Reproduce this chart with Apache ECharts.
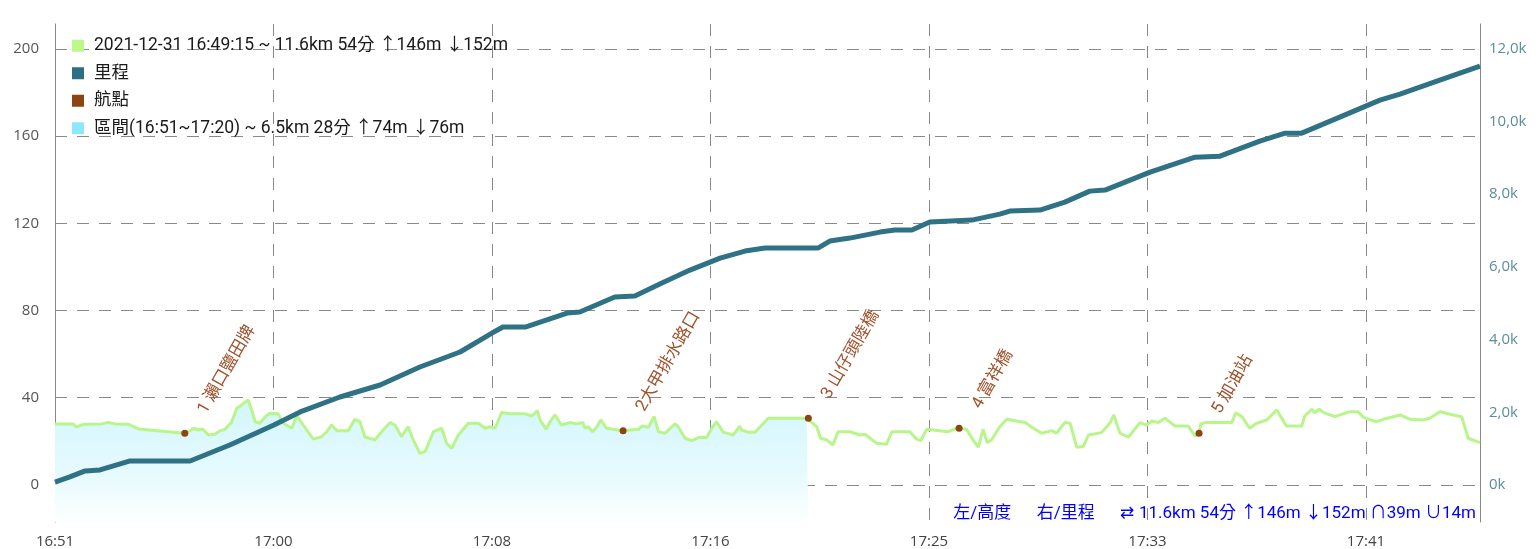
<!DOCTYPE html>
<html>
<head>
<meta charset="utf-8">
<script src="https://cdn.jsdelivr.net/npm/echarts@6/dist/echarts.min.js"></script>
<style>
  html, body { margin: 0; padding: 0; background: #fff; }
  #chart { width: 1540px; height: 549px; }
</style>
</head>
<body>
<div id="chart"></div>
<script>
// seconds from 16:51:45
const eleSec = [0, 42, 48, 65, 107, 122, 137, 168, 191, 297, 309, 318, 328, 338, 351, 366, 378, 389, 404, 416, 427, 442, 450, 458, 469, 481, 492, 511, 522, 542, 553, 576, 591, 610, 622, 633, 645, 671, 686, 698, 709, 732, 751, 767, 778, 793, 808, 820, 835, 847, 866, 885, 896, 908, 923, 946, 969, 984, 995, 1007, 1022, 1041, 1076, 1091, 1104, 1110, 1124, 1133, 1144, 1159, 1178, 1194, 1208, 1213, 1220, 1230, 1240, 1249, 1262, 1300, 1335, 1343, 1358, 1371, 1381, 1396, 1419, 1426, 1442, 1457, 1476, 1491, 1503, 1514, 1529, 1552, 1567, 1571, 1586, 1602, 1613, 1632, 1720, 1724, 1743, 1752, 1766, 1780, 1792, 1819, 1842, 1854, 1865, 1880, 1903, 1915, 1956, 1972, 1981, 1995, 2044, 2056, 2069, 2086, 2101, 2113, 2124, 2133, 2143, 2162, 2178, 2220, 2239, 2258, 2281, 2292, 2311, 2323, 2338, 2353, 2365, 2395, 2414, 2423, 2437, 2456, 2483, 2498, 2510, 2525, 2540, 2563, 2593, 2609, 2618, 2622, 2635, 2693, 2702, 2716, 2734, 2750, 2773, 2796, 2818, 2853, 2860, 2876, 2883, 2893, 2906, 2929, 2963, 2982, 2994, 3024, 3040, 3078, 3101, 3131, 3146, 3169, 3200, 3219, 3234, 3261]
const eleMeters = [28.0, 28.0, 26.5, 27.8, 28.0, 28.7, 28.0, 27.8, 25.7, 23.7, 24.9, 26.0, 25.2, 25.7, 22.9, 23.2, 24.9, 25.5, 28.7, 35.2, 36.7, 39.0, 34.4, 29.0, 28.3, 31.3, 32.9, 32.6, 28.3, 26.0, 31.8, 25.2, 21.0, 22.1, 24.4, 27.5, 24.9, 24.9, 30.1, 29.0, 22.1, 20.6, 25.2, 28.6, 27.5, 22.1, 26.7, 20.6, 14.5, 15.3, 24.4, 26.0, 19.1, 16.8, 22.9, 28.3, 28.3, 26.0, 26.7, 26.0, 33.2, 32.6, 32.6, 31.6, 34.1, 29.8, 25.5, 29.0, 32.1, 27.5, 28.6, 28.0, 28.6, 26.0, 26.7, 24.4, 26.7, 29.8, 26.0, 24.8, 25.5, 27.0, 26.5, 31.3, 24.4, 23.7, 28.0, 26.7, 21.4, 20.3, 21.9, 21.7, 26.0, 29.0, 24.2, 22.9, 27.0, 25.2, 24.2, 24.2, 26.5, 30.6, 30.6, 30.6, 26.7, 21.4, 20.6, 18.3, 24.4, 24.4, 22.9, 23.2, 21.4, 19.1, 18.7, 24.4, 24.4, 21.0, 20.3, 25.5, 24.4, 25.5, 26.0, 25.5, 20.6, 17.3, 25.5, 19.4, 20.6, 26.7, 30.1, 28.6, 26.0, 23.7, 24.9, 23.7, 28.7, 28.3, 17.3, 17.6, 22.9, 24.0, 28.3, 32.1, 23.7, 21.9, 28.6, 27.5, 29.3, 28.6, 30.6, 27.0, 27.0, 22.5, 23.7, 28.0, 28.6, 28.6, 33.1, 31.3, 26.0, 28.3, 29.8, 34.4, 27.0, 27.0, 31.6, 34.7, 33.1, 34.7, 32.9, 31.3, 33.6, 33.6, 31.0, 29.0, 30.1, 32.1, 30.1, 29.8, 30.6, 33.6, 32.1, 31.3, 21.4, 19.4]

const distSec = [0, 34, 69, 103, 172, 309, 400, 501, 561, 652, 744, 835, 927, 1000, 1025, 1076, 1172, 1201, 1281, 1327, 1384, 1453, 1522, 1579, 1625, 1746, 1773, 1819, 1865, 1888, 1922, 1961, 2002, 2098, 2162, 2185, 2254, 2311, 2368, 2403, 2506, 2609, 2666, 2757, 2815, 2853, 2940, 3032, 3078, 3169, 3261]
const distMeters = [80, 220, 385, 412, 660, 660, 1100, 1650, 2008, 2420, 2750, 3245, 3658, 4180, 4345, 4345, 4730, 4758, 5170, 5198, 5528, 5913, 6243, 6435, 6518, 6518, 6710, 6793, 6903, 6958, 7013, 7013, 7233, 7288, 7453, 7535, 7563, 7783, 8085, 8113, 8608, 9020, 9048, 9460, 9680, 9680, 10120, 10588, 10753, 11138, 11523]

const wpSec = [297, 1300, 1724, 2069, 2618]
const wpEle = [23.7, 24.8, 30.6, 26.0, 23.7]
const wpName = ['1 瀨口鹽田牌', '2大甲排水路口', '3 山仔頭陸橋', '4 富祥橋', '5 加油站']

const rangeEnd = 1724
const startClock = 16 * 3600 + 51 * 60 + 45

const nameTrack = '2021-12-31 16:49:15 ~ 11.6km 54分 ↑146m ↓152m'
const nameDist = '里程'
const nameWp = '航點'
const nameRange = '區間(16:51~17:20) ~ 6.5km 28分 ↑74m ↓76m'
const bottomNote = '左/高度      右/里程      {arr|⇄}11.6km 54分 ↑146m ↓152m ∩39m ∪14m'

const font = 'Roboto, "Noto Sans CJK TC", sans-serif'
const axisFont = '"Open Sans", "Noto Sans CJK TC", sans-serif'

let eleData = eleSec.map((s, i) => [s, eleMeters[i]])
let rangeData = eleData.filter(d => d[0] <= rangeEnd)
let distData = distSec.map((s, i) => [s, distMeters[i]])
let wpData = wpSec.map((s, i) => [s, wpEle[i]])

function clock (v) {
  let t = Math.floor(startClock + v)
  let h = Math.floor(t / 3600)
  let m = Math.floor((t % 3600) / 60)
  return h + ':' + (m < 10 ? '0' + m : m)
}

let gridDash = {color: '#888', type: [12, 10], width: 1}

let myChart = echarts.init(document.getElementById('chart'))
let option = {
  animation: false,
  textStyle: {fontFamily: font},
  grid: {left: 55, right: 60, top: 24, bottom: 27, containLabel: false, outerBoundsMode: 'none'},
  legend: {
    orient: 'vertical',
    left: 67,
    top: 32,
    itemWidth: 12,
    itemHeight: 12,
    itemGap: 10,
    icon: 'rect',
    textStyle: {fontSize: 17.5, color: '#1a1a1a', fontFamily: font, padding: [0, 0, 0, 5]},
    data: [nameTrack, nameDist, nameWp, nameRange]
  },
  xAxis: {
    type: 'value',
    min: 0,
    max: 3261,
    interval: 500,
    axisLine: {show: false},
    axisTick: {show: false},
    axisLabel: {
      formatter: clock,
      showMaxLabel: false,
      color: '#444',
      fontSize: 15,
      fontFamily: axisFont,
      margin: 12
    },
    splitLine: {show: true, lineStyle: gridDash}
  },
  yAxis: [
    {
      type: 'value',
      min: -17,
      max: 211.4,
      minInterval: 40,
      maxInterval: 40,
      axisLine: {show: true, lineStyle: {color: '#888'}},
      axisTick: {show: false},
      axisLabel: {showMinLabel: false, showMaxLabel: false, color: '#555', fontSize: 15, fontFamily: axisFont, margin: 16},
      splitLine: {show: true, showMinLine: false, showMaxLine: false, lineStyle: gridDash}
    },
    {
      type: 'value',
      min: -1020,
      max: 12684,
      minInterval: 2000,
      maxInterval: 2000,
      axisLine: {show: true, lineStyle: {color: '#888'}},
      axisTick: {show: false},
      axisLabel: {
        showMinLabel: false,
        showMaxLabel: false,
        color: '#5b8d9b',
        fontSize: 15,
        fontFamily: axisFont,
        margin: 9,
        formatter: v => v === 0 ? '0k' : (v / 1000).toFixed(1).replace('.', ',') + 'k'
      },
      splitLine: {show: false}
    }
  ],
  series: [
    {
      name: nameRange,
      type: 'line',
      data: rangeData,
      symbol: 'none',
      color: '#8ee8fb',
      lineStyle: {width: 0},
      areaStyle: {
        origin: 'start',
        opacity: 1,
        color: new echarts.graphic.LinearGradient(0, 0, 0, 1, [
          {offset: 0, color: '#d2f6fd'},
          {offset: 0.6, color: '#e6fafe'},
          {offset: 1, color: '#fdffff'}
        ])
      },
      z: 1
    },
    {
      name: nameTrack,
      type: 'line',
      data: eleData,
      symbol: 'none',
      color: '#bdf98a',
      lineStyle: {width: 3, color: '#b8f58a'},
      z: 2
    },
    {
      name: nameDist,
      type: 'line',
      yAxisIndex: 1,
      data: distData,
      symbol: 'none',
      color: '#2c6e83',
      lineStyle: {width: 5, color: '#2f7286'},
      z: 3
    },
    {
      name: nameWp,
      type: 'scatter',
      data: wpData,
      symbol: 'circle',
      symbolSize: 7,
      color: '#8b4513',
      itemStyle: {opacity: 1},
      label: {
        show: true,
        formatter: p => wpName[p.dataIndex],
        position: 'right',
        distance: 2,
        rotate: 60,
        padding: [0, 0, 0, 24],
        color: '#a0522d',
        fontSize: 17,
        fontFamily: font
      },
      z: 4
    }
  ],
  graphic: [
    {
      type: 'text',
      right: 64,
      top: 505,
      style: {
        text: bottomNote,
        fill: '#0000ff',
        font: '17px Roboto, "Noto Sans CJK TC", sans-serif',
        rich: {
          arr: {fontFamily: '"DejaVu Sans"', fontSize: 17, fill: '#0000ff', width: 19}
        }
      }
    }
  ]
}
myChart.setOption(option)
</script>
</body>
</html>
